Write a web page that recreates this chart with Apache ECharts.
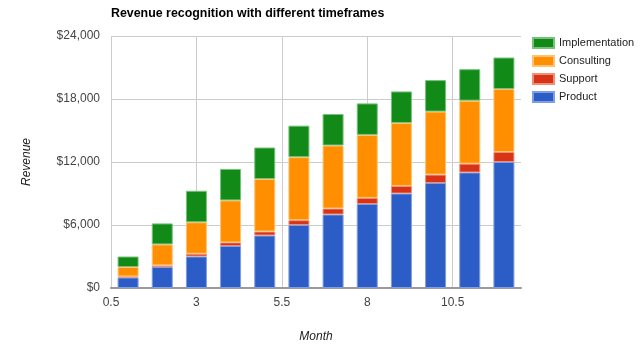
<!DOCTYPE html>
<html><head><meta charset="utf-8">
<script src="https://cdn.jsdelivr.net/npm/echarts@6/dist/echarts.min.js"></script>
<style>html,body{margin:0;padding:0;background:#fff}#c{width:640px;height:357px}</style>
</head><body><div id="c"></div>
<script>
var months = [1,2,3,4,5,6,7,8,9,10,11,12];
var product = [1000,2000,3000,4000,5000,6000,7000,8000,9000,10000,11000,12000];
var support = [100,150,260,340,380,460,570,580,720,800,840,950];
var consulting = [900,2000,3000,4000,5000,6000,6000,6000,6000,6000,6000,6000];
var implementation = [1000,2000,3000,3000,3000,3000,3000,3000,3000,3000,3000,3000];
var xTicks = [0.5,3,5.5,8,10.5];
var yTicks = [0,6000,12000,18000,24000];

var seriesDefs = [
  {name:'Product', data:product, color:'#2c5cc5', border:'#7f9de0'},
  {name:'Support', data:support, color:'#d83316', border:'#ee8f78'},
  {name:'Consulting', data:consulting, color:'#ff8f00', border:'#ffc470'},
  {name:'Implementation', data:implementation, color:'#128a18', border:'#77c27b'}
];
var FONT = 'Liberation Sans, Arial, sans-serif';
var chart = echarts.init(document.getElementById('c'));
chart.setOption({
  animation:false,
  textStyle:{fontFamily:FONT},
  title:{text:'Revenue recognition with different timeframes', left:106, top:3,
    textStyle:{fontSize:12.4, fontWeight:'bold', color:'#000', fontFamily:FONT}},
  legend:{orient:'vertical', left:527, top:32, itemWidth:21, itemHeight:10, itemGap:6, icon:'rect',
    data:['Implementation','Consulting','Support','Product'],
    textStyle:{fontSize:11, color:'#222'}},
  grid:{left:111, right:119, top:36, bottom:69, containLabel:false},
  xAxis:[
    {type:'category', data:months, boundaryGap:true, show:false},
    {type:'value', min:xTicks[0], max:12.5, interval:xTicks[1]-xTicks[0], position:'bottom',
      name:'Month', nameLocation:'middle', nameGap:43,
      nameTextStyle:{fontStyle:'italic', fontSize:12, color:'#222'},
      axisLine:{show:true, onZero:false, lineStyle:{color:'#999', width:2}},
      axisTick:{show:false},
      axisLabel:{color:'#444', fontSize:12, margin:9, showMaxLabel:false},
      splitLine:{show:true, showMaxLine:false, lineStyle:{color:'#ccc', width:1}}}
  ],
  yAxis:{type:'value', min:yTicks[0], max:yTicks[yTicks.length-1], interval:yTicks[1]-yTicks[0],
    name:'Revenue', nameLocation:'middle', nameGap:78, nameRotate:90,
    nameTextStyle:{fontStyle:'italic', fontSize:12, color:'#222'},
    axisLine:{show:false}, axisTick:{show:false},
    axisLabel:{color:'#444', fontSize:12, margin:11,
      formatter:function(v){ return '$' + v.toLocaleString('en-US'); }},
    splitLine:{show:true, lineStyle:{color:'#ccc', width:1}}},
  series: seriesDefs.map(function(s){
    return {name:s.name, type:'bar', stack:'rev', xAxisIndex:0, barWidth:21, data:s.data,
      itemStyle:{color:s.color, borderColor:s.border, borderWidth:1}};
  })
});
</script></body></html>
